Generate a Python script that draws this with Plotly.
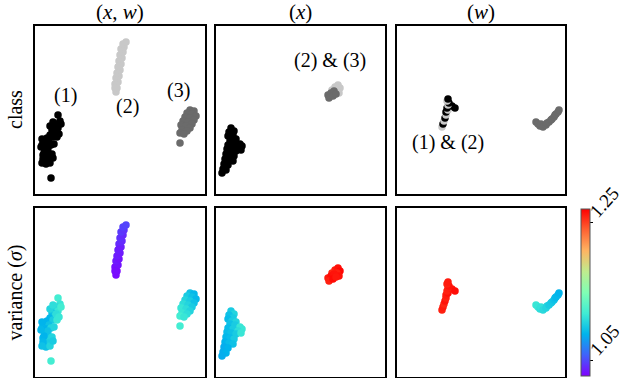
import plotly.graph_objects as go

# ---------------- data ----------------
# embedding (x, w)
xw_x = [23, 25, 22, 20, 23, 17, 20, 15, 12, 18, 9, 14, 7, 11, 16, 10, 13, 8, 12, 10, 14, 11, 15, 16, 21, 13, 9,
        15, 26, 18, 7, 22, 6, 19, 24, 17, 8, 18, 7,
        81, 82, 80, 83, 81, 84, 82, 85, 83, 86, 84, 87, 85, 88, 86, 89, 88, 91, 80, 84,
        155, 159, 152, 157, 161, 150, 155, 159, 148, 153, 157, 146, 151, 155, 147, 152, 145, 149, 145]
xw_y = [79, 73, 70, 67, 66, 64, 61, 59, 56, 57, 53, 52, 49, 48, 49, 44, 42, 39, 37, 34, 34, 30, 31, 16, 63, 46, 41,
        68, 70, 72, 55, 57, 47, 50, 60, 40, 35, 36, 31,
        102, 106, 110, 112, 116, 118, 121, 124, 127, 130, 133, 136, 139, 142, 145, 147, 150, 152, 106, 128,
        84, 83, 81, 80, 78, 77, 76, 74, 73, 72, 70, 69, 68, 66, 64, 63, 61, 60, 51]
xw_cls = [1] * 39 + [2] * 20 + [3] * 19
xw_var = [1.12, 1.115, 1.11, 1.105, 1.115, 1.095, 1.105, 1.09, 1.088, 1.10, 1.088, 1.095, 1.09, 1.088, 1.105, 1.095,
          1.10, 1.09, 1.105, 1.095, 1.10, 1.095, 1.105, 1.12, 1.11, 1.095, 1.088,
          1.105, 1.12, 1.11, 1.088, 1.115, 1.09, 1.105, 1.115, 1.105, 1.09, 1.10, 1.095,
          1.03, 1.03, 1.032, 1.033, 1.035, 1.033, 1.036, 1.035, 1.038, 1.037, 1.04, 1.04, 1.042, 1.04, 1.045,
          1.043, 1.047, 1.048, 1.031, 1.036,
          1.095, 1.09, 1.10, 1.095, 1.09, 1.105, 1.10, 1.095, 1.11, 1.105, 1.10, 1.115, 1.11, 1.105, 1.115,
          1.11, 1.12, 1.115, 1.12]

# embedding (x)
x_x = [15, 18, 13, 17, 12, 16, 20, 14, 19, 24, 26, 12, 17, 22, 11, 15, 20, 25, 10, 14, 18, 9, 13, 17, 8, 12, 7, 10, 6,
       119, 122, 124, 121, 123, 116, 112, 115, 118, 113, 117, 120]
x_y = [66, 63, 62, 59, 58, 56, 55, 53, 52, 50, 48, 49, 48, 46, 45, 44, 43, 44, 40, 39, 38, 35, 34, 33, 30, 29, 25, 24, 21,
       107, 109, 106, 104, 101, 104, 99, 101, 103, 96, 98, 100]
x_cls = [1] * 29 + [2] * 6 + [3] * 6
x_var = [1.10, 1.105, 1.095, 1.10, 1.092, 1.10, 1.105, 1.095, 1.10, 1.115, 1.115, 1.092, 1.10, 1.11, 1.092, 1.095,
         1.10, 1.115, 1.09, 1.092, 1.10, 1.088, 1.092, 1.095, 1.085, 1.088, 1.085, 1.088, 1.085,
         1.262, 1.265, 1.268, 1.26, 1.265, 1.258, 1.262, 1.266, 1.264, 1.26, 1.267, 1.263]

# embedding (w)
w_x = [45, 46, 47, 48, 49, 49, 51, 50, 55, 58, 51, 52, 50, 51,
       139, 141, 143, 144, 146, 149, 150, 152, 154, 155, 157, 158, 159, 161, 162]
w_y = [67, 70, 73, 76, 79, 82, 84, 86, 88, 86, 89, 91, 93, 95,
       72, 70, 68, 70, 67, 69, 71, 72, 74, 75, 77, 79, 80, 82, 84]
w_cls = [2, 1, 2, 1, 2, 1, 2, 1, 1, 1, 2, 1, 2, 1] + [3] * 15
w_var = [1.26, 1.262, 1.258, 1.264, 1.26, 1.262, 1.265, 1.26, 1.263, 1.266, 1.261, 1.264, 1.26, 1.262,
         1.115, 1.115, 1.11, 1.112, 1.108, 1.105, 1.105, 1.10, 1.10, 1.098, 1.095, 1.093, 1.09, 1.09, 1.088]

col_titles = ["(<i>x</i>, <i>w</i>)", "(<i>x</i>)", "(<i>w</i>)"]
row_titles = ["class", "variance (<i>σ</i>)"]
cbar_ticks = [1.05, 1.25]
cbar_range = [1.027, 1.27]

# ---------------- styling ----------------
W, H = 620, 378
FONT = "Liberation Serif"
class_colors = {1: "#000000", 2: "#c8c8c8", 3: "#6b6b6b"}
rainbow = [[0.0, "rgb(128,0,255)"], [0.125, "rgb(64,98,250)"], [0.25, "rgb(0,180,236)"],
           [0.375, "rgb(64,236,212)"], [0.5, "rgb(128,255,180)"], [0.625, "rgb(191,236,142)"],
           [0.75, "rgb(255,180,98)"], [0.875, "rgb(255,98,50)"], [1.0, "rgb(255,0,0)"]]

cols_px = [(35, 205), (216, 385), (397, 565)]
rows_px = [(26, 194), (208, 377)]
cbar_px = dict(left=581, width=9, top=209, bottom=376)

embeds = [(xw_x, xw_y, xw_cls, xw_var), (x_x, x_y, x_cls, x_var), (w_x, w_y, w_cls, w_var)]

fig = go.Figure()
layout = dict(width=W, height=H, margin=dict(l=0, r=0, t=0, b=0, pad=0), autosize=False,
              paper_bgcolor="white", plot_bgcolor="white", showlegend=False)

k = 0
for r, (top, bot) in enumerate(rows_px):
    for c, (left, right) in enumerate(cols_px):
        k += 1
        xs, ys, cls, var = embeds[c]
        xa = "x" if k == 1 else f"x{k}"
        ya = "y" if k == 1 else f"y{k}"
        if r == 0:
            marker = dict(size=7.5, color=[class_colors[v] for v in cls], line=dict(width=0))
        else:
            marker = dict(size=7.5, color=var, colorscale=rainbow, cmin=cbar_range[0], cmax=cbar_range[1],
                          line=dict(width=0), showscale=(c == 0))
            if c == 0:
                cb_mid = (cbar_px["top"] + cbar_px["bottom"]) / 2
                marker["colorbar"] = dict(
                    thickness=cbar_px["width"], thicknessmode="pixels",
                    len=(cbar_px["bottom"] - cbar_px["top"]) / H, lenmode="fraction",
                    x=cbar_px["left"] / W, xanchor="left", y=1 - cb_mid / H, yanchor="middle",
                    tickvals=cbar_ticks, showticklabels=False, ticks="outside", ticklen=3,
                    tickcolor="black", outlinewidth=1, outlinecolor="#555", xpad=0, ypad=0)
        fig.add_trace(go.Scatter(x=xs, y=ys, mode="markers", marker=marker,
                                 xaxis=xa, yaxis=ya, hoverinfo="skip"))
        axkey = "xaxis" if k == 1 else f"xaxis{k}"
        aykey = "yaxis" if k == 1 else f"yaxis{k}"
        common = dict(showticklabels=False, showgrid=False, zeroline=False, ticks="",
                      showline=True, mirror=True, linewidth=2, linecolor="black", fixedrange=True)
        layout[axkey] = dict(domain=[left / W, right / W], range=[0, right - left], anchor=ya, **common)
        layout[aykey] = dict(domain=[1 - bot / H, 1 - top / H], range=[0, bot - top], anchor=xa, **common)

fig.update_layout(**layout)

annos = []
for c, (left, right) in enumerate(cols_px):
    annos.append(dict(text=col_titles[c], x=(left + right) / 2 / W, y=1 - 12 / H, xref="paper", yref="paper",
                      xanchor="center", yanchor="middle", showarrow=False,
                      font=dict(family=FONT, size=21, color="black")))
for r, (top, bot) in enumerate(rows_px):
    annos.append(dict(text=row_titles[r], x=15 / W, y=1 - (top + bot) / 2 / H, xref="paper", yref="paper",
                      xanchor="center", yanchor="middle", textangle=-90, showarrow=False,
                      font=dict(family=FONT, size=20, color="black")))

# colorbar tick labels (rotated), placed just right of the bar
cb_lo, cb_hi = cbar_px["bottom"], cbar_px["top"]
for t in cbar_ticks:
    ty = cb_lo - (t - cbar_range[0]) / (cbar_range[1] - cbar_range[0]) * (cb_lo - cb_hi)
    annos.append(dict(text=f"{t:.2f}", x=604 / W, y=1 - (ty - 20) / H, xref="paper", yref="paper",
                      xanchor="center", yanchor="middle", textangle=-48, showarrow=False,
                      font=dict(family=FONT, size=19, color="black")))

# cluster labels (panel-local coordinates)
labels = [("x", "y", 30, 99, "(1)"), ("x", "y", 92, 88, "(2)"), ("x", "y", 143, 104, "(3)"),
          ("x2", "y2", 114, 134, "(2) &amp; (3)"), ("x3", "y3", 51, 52, "(1) &amp; (2)")]
for xr, yr, lx, ly, t in labels:
    annos.append(dict(text=t, x=lx, y=ly, xref=xr, yref=yr, xanchor="center", yanchor="middle",
                      showarrow=False, font=dict(family=FONT, size=20, color="black")))
fig.update_layout(annotations=annos)

fig.write_html("out.html", config={"displayModeBar": False, "staticPlot": True},
               post_script="document.body.style.margin='0';document.body.style.overflow='hidden';")
